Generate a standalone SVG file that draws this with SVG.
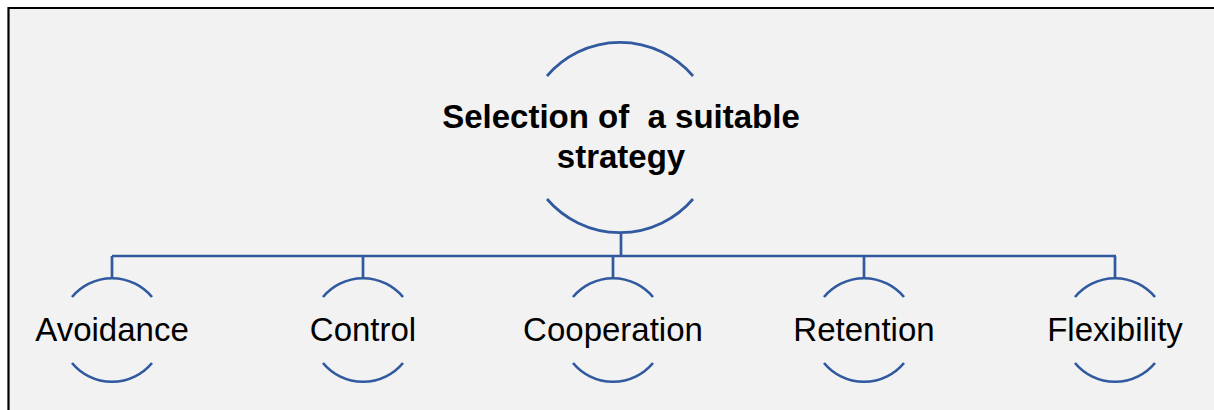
<svg xmlns="http://www.w3.org/2000/svg" width="1214" height="410" viewBox="0 0 1214 410">
  <style>
    .arc { fill: none; stroke: #3059A0; stroke-width: 2.7; }
    .link { fill: none; stroke: #3059A0; stroke-width: 2.7; }
    .label { font-family: "Liberation Sans", Arial, sans-serif; font-size: 33px; fill: #000; text-anchor: middle; }
    .title { font-family: "Liberation Sans", Arial, sans-serif; font-size: 33px; font-weight: bold; fill: #000; text-anchor: middle; white-space: pre; }
  </style>

  <!-- page background and frame -->
  <rect x="0" y="0" width="1214" height="410" fill="#ffffff"/>
  <rect x="8" y="8" width="1206" height="402" fill="#f2f2f2"/>
  <path d="M8.5 410 V8 H1214" fill="none" stroke="#000" stroke-width="2.2"/>

  <!-- connectors -->
  <g id="connectors" class="link">
    <path d="M621 234 V256"/>
    <path d="M112 256 H1116"/>
    <path d="M112 256 V278"/>
    <path d="M363 256 V278"/>
    <path d="M613 256 V278"/>
    <path d="M864 256 V278"/>
    <path d="M1115 256 V278"/>
  </g>

  <!-- root node -->
  <g id="root">
    <path class="arc" d="M547 76 A96 96 0 0 1 693 76"/>
    <path class="arc" d="M547 199 A96 96 0 0 0 693 199"/>
    <text class="title" x="621" y="128" xml:space="preserve">Selection of  a suitable</text>
    <text class="title" x="621" y="168">strategy</text>
  </g>

  <!-- child nodes -->
  <g id="avoidance">
    <path class="arc" d="M72 297 A52 52 0 0 1 152 297"/>
    <path class="arc" d="M72 363 A52 52 0 0 0 152 363"/>
    <text class="label" x="112" y="341">Avoidance</text>
  </g>
  <g id="control">
    <path class="arc" d="M323 297 A52 52 0 0 1 403 297"/>
    <path class="arc" d="M323 363 A52 52 0 0 0 403 363"/>
    <text class="label" x="363" y="341">Control</text>
  </g>
  <g id="cooperation">
    <path class="arc" d="M573 297 A52 52 0 0 1 653 297"/>
    <path class="arc" d="M573 363 A52 52 0 0 0 653 363"/>
    <text class="label" x="613" y="341">Cooperation</text>
  </g>
  <g id="retention">
    <path class="arc" d="M824 297 A52 52 0 0 1 904 297"/>
    <path class="arc" d="M824 363 A52 52 0 0 0 904 363"/>
    <text class="label" x="864" y="341">Retention</text>
  </g>
  <g id="flexibility">
    <path class="arc" d="M1075 297 A52 52 0 0 1 1155 297"/>
    <path class="arc" d="M1075 363 A52 52 0 0 0 1155 363"/>
    <text class="label" x="1115" y="341">Flexibility</text>
  </g>
</svg>
